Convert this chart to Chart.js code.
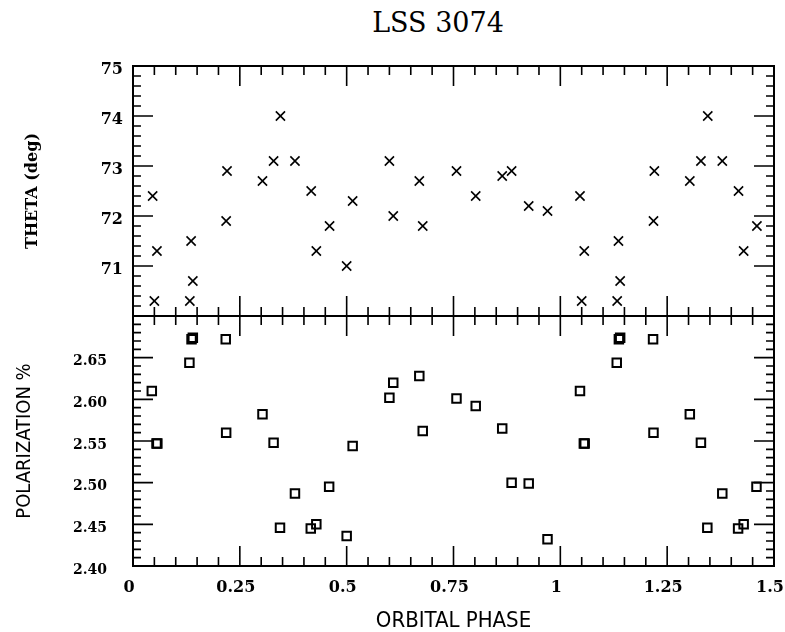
<!DOCTYPE html>
<html>
<head>
<meta charset="utf-8">
<title>LSS 3074</title>
<script src="https://cdn.jsdelivr.net/npm/chart.js@4.4.0/dist/chart.umd.min.js"></script>
<style>
    body { margin: 0; background: #fff; }
    #wrap { position: relative; width: 785px; height: 632px; overflow: hidden; }
    #wrap canvas { position: absolute; left: 0; top: 0; }
    #title {
        position: absolute; left: 338px; top: 9px; width: 200px;
        text-align: center; font: 27px/27px "DejaVu Serif", serif; color: #000;
    }
</style>
</head>
<body>
<div id="wrap">
    <div id="title">LSS 3074</div>
    <canvas id="thetaChart" width="820" height="632"></canvas>
    <canvas id="polChart" width="820" height="632"></canvas>
</div>
<script>
// Orbital phase ticks (shared x axis)
const phaseTicks = [0, 0.25, 0.5, 0.75, 1, 1.25, 1.5];
const phaseTickLabels = ['0', '0.25', '0.5', '0.75', '1', '1.25', '1.5'];

// Top panel: position angle
const thetaTicks = [70, 71, 72, 73, 74, 75];
const thetaTickLabels = ['', '71', '72', '73', '74', '75'];
const thetaPhase = [
    0.046, 0.056, 0.050, 0.136, 0.140, 0.133, 0.220, 0.218, 0.303, 0.329,
    0.345, 0.379, 0.417, 0.429, 0.460, 0.500, 0.514, 0.600, 0.609, 0.670,
    0.678, 0.757, 0.802, 0.864, 0.886, 0.926, 0.970,
    1.046, 1.056, 1.050, 1.136, 1.140, 1.133, 1.220, 1.218, 1.303, 1.329,
    1.345, 1.379, 1.417, 1.429, 1.460
];
const thetaDeg = [
    72.4, 71.3, 70.3, 71.5, 70.7, 70.3, 72.9, 71.9, 72.7, 73.1,
    74.0, 73.1, 72.5, 71.3, 71.8, 71.0, 72.3, 73.1, 72.0, 72.7,
    71.8, 72.9, 72.4, 72.8, 72.9, 72.2, 72.1,
    72.4, 71.3, 70.3, 71.5, 70.7, 70.3, 72.9, 71.9, 72.7, 73.1,
    74.0, 73.1, 72.5, 71.3, 71.8
];

// Bottom panel: polarization
const polTicks = [2.40, 2.45, 2.50, 2.55, 2.60, 2.65, 2.70];
const polTickLabels = ['2.40', '2.45', '2.50', '2.55', '2.60', '2.65', ''];
const polPhase = [
    0.044, 0.055, 0.057, 0.137, 0.140, 0.132, 0.217, 0.218, 0.303, 0.329,
    0.344, 0.379, 0.416, 0.429, 0.459, 0.500, 0.514, 0.600, 0.609, 0.670,
    0.678, 0.757, 0.802, 0.864, 0.886, 0.926, 0.970,
    1.046, 1.055, 1.057, 1.137, 1.140, 1.132, 1.217, 1.218, 1.303, 1.329,
    1.344, 1.379, 1.416, 1.429, 1.459
];
const polPct = [
    2.610, 2.547, 2.547, 2.672, 2.674, 2.644, 2.672, 2.560, 2.582, 2.548,
    2.446, 2.487, 2.445, 2.450, 2.495, 2.436, 2.544, 2.602, 2.620, 2.628,
    2.562, 2.601, 2.592, 2.565, 2.500, 2.499, 2.432,
    2.610, 2.547, 2.547, 2.672, 2.674, 2.644, 2.672, 2.560, 2.582, 2.548,
    2.446, 2.487, 2.445, 2.450, 2.495
];

const serifBold = { family: '"DejaVu Serif", serif', size: 16, weight: 'bold' };
const plotterSans = '"DejaVu Sans Condensed", "Liberation Sans Narrow", "DejaVu Sans", sans-serif';

// frame + inward major/minor ticks on all four sides
const innerTicks = {
    id: 'innerTicks',
    afterDraw(chart, args, opts) {
        const { ctx, chartArea: a } = chart;
        const x = chart.scales.x, y = chart.scales.y;
        ctx.save();
        ctx.strokeStyle = '#000';
        ctx.lineWidth = 2;
        ctx.strokeRect(a.left, a.top, a.right - a.left, a.bottom - a.top);
        ctx.lineWidth = 1.6;
        ctx.beginPath();
        const nx = Math.round((x.max - x.min) / opts.xMinor);
        for (let i = 0; i <= nx; i++) {
            const px = x.getPixelForValue(x.min + i * opts.xMinor);
            const len = i % opts.xEvery === 0 ? 20 : 9;
            ctx.moveTo(px, a.bottom); ctx.lineTo(px, a.bottom - len);
            ctx.moveTo(px, a.top); ctx.lineTo(px, a.top + len);
        }
        const ny = Math.round((y.max - y.min) / opts.yMinor);
        for (let i = 0; i <= ny; i++) {
            const py = y.getPixelForValue(y.min + i * opts.yMinor);
            const len = i % opts.yEvery === 0 ? 20 : 8;
            ctx.moveTo(a.left, py); ctx.lineTo(a.left + len, py);
            ctx.moveTo(a.right, py); ctx.lineTo(a.right - len, py);
        }
        ctx.stroke();
        ctx.restore();
    }
};

function points(xs, ys) {
    return xs.map((v, i) => ({ x: v, y: ys[i] }));
}

const thetaChart = new Chart(document.getElementById('thetaChart'), {
    type: 'scatter',
    data: {
        datasets: [{
            data: points(thetaPhase, thetaDeg),
            pointStyle: 'crossRot',
            pointRadius: 6.5,
            borderColor: '#000',
            borderWidth: 1.6
        }]
    },
    options: {
        responsive: false,
        animation: false,
        events: [],
        layout: { autoPadding: false, padding: { left: 0, top: 66, right: 46, bottom: 316 } },
        plugins: {
            legend: { display: false },
            tooltip: { enabled: false },
            innerTicks: { xMinor: 0.05, xEvery: 5, yMinor: 0.2, yEvery: 5 }
        },
        scales: {
            x: { type: 'linear', min: 0, max: 1.5, display: false },
            y: {
                min: 70, max: 75,
                grid: { display: false, drawTicks: false },
                border: { display: false },
                afterBuildTicks: s => { s.ticks = thetaTicks.map(v => ({ value: v })); },
                afterFit: s => { s.width = 133; },
                ticks: {
                    padding: 10,
                    labelOffset: 4,
                    color: '#000',
                    font: serifBold,
                    callback: (v, i) => thetaTickLabels[i]
                },
                title: {
                    display: true,
                    text: 'THETA (deg)',
                    color: '#000',
                    font: { family: '"DejaVu Serif", serif', size: 16, weight: 'bold' },
                    padding: { top: 23, bottom: 0 }
                }
            }
        }
    },
    plugins: [innerTicks]
});

const polChart = new Chart(document.getElementById('polChart'), {
    type: 'scatter',
    data: {
        datasets: [{
            data: points(polPhase, polPct),
            pointStyle: 'rect',
            pointRadius: 6,
            borderColor: '#000',
            backgroundColor: 'rgba(0,0,0,0)',
            borderWidth: 2
        }]
    },
    options: {
        responsive: false,
        animation: false,
        events: [],
        layout: { autoPadding: false, padding: { left: 0, top: 316, right: 46, bottom: 0 } },
        plugins: {
            legend: { display: false },
            tooltip: { enabled: false },
            innerTicks: { xMinor: 0.05, xEvery: 5, yMinor: 0.01, yEvery: 5 }
        },
        scales: {
            x: {
                type: 'linear', min: 0, max: 1.5,
                grid: { display: false, drawTicks: false },
                border: { display: false },
                afterBuildTicks: s => { s.ticks = phaseTicks.map(v => ({ value: v })); },
                afterFit: s => { s.height = 66; },
                ticks: {
                    padding: 12,
                    maxRotation: 0,
                    autoSkip: false,
                    labelOffset: -4,
                    color: '#000',
                    font: serifBold,
                    callback: (v, i) => phaseTickLabels[i]
                },
                title: {
                    display: true,
                    text: 'ORBITAL PHASE',
                    color: '#000',
                    font: { family: plotterSans, size: 22, lineHeight: 1 },
                    padding: { top: 0, bottom: 0 }
                }
            },
            y: {
                min: 2.40, max: 2.70,
                grid: { display: false, drawTicks: false },
                border: { display: false },
                afterBuildTicks: s => { s.ticks = polTicks.map(v => ({ value: v })); },
                afterFit: s => { s.width = 133; },
                ticks: {
                    padding: 26,
                    labelOffset: 4,
                    color: '#000',
                    font: { family: '"DejaVu Serif", serif', size: 14, weight: 'bold' },
                    callback: (v, i) => polTickLabels[i]
                },
                title: {
                    display: true,
                    text: 'POLARIZATION %',
                    color: '#000',
                    font: { family: plotterSans, size: 20 },
                    padding: { top: 13, bottom: 0 }
                }
            }
        }
    },
    plugins: [innerTicks]
});
</script>
</body>
</html>
